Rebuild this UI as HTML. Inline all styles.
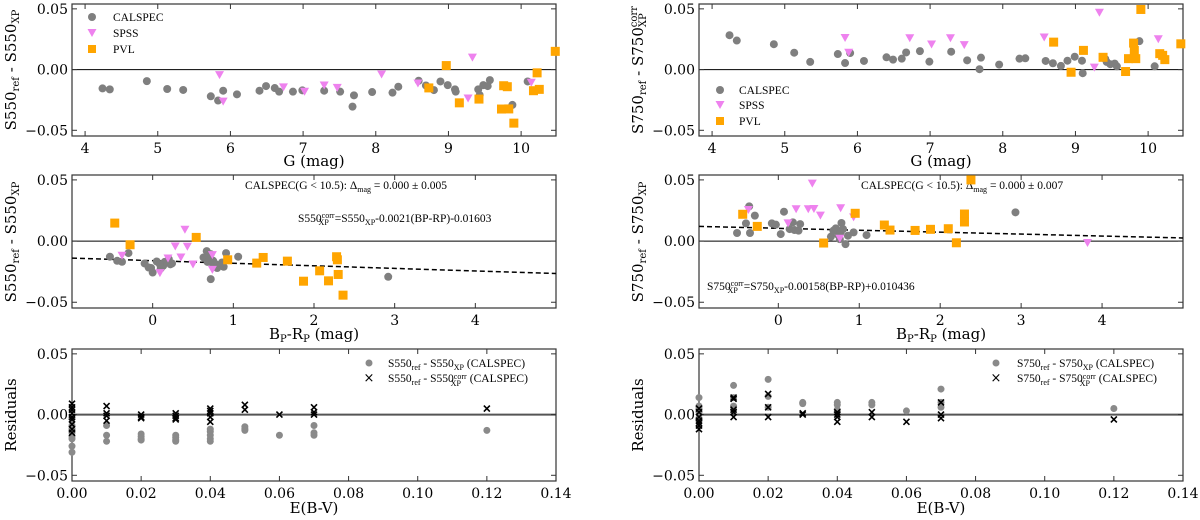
<!DOCTYPE html>
<html><head><meta charset="utf-8"><style>
html,body{margin:0;padding:0;background:#fff;}
svg{display:block;font-family:"DejaVu Serif","Liberation Serif",serif;}
.tk{font-size:14px;fill:#000;}
.lg{font-family:"Liberation Serif",serif;font-size:11.5px;fill:#000;}
.al{font-size:15px;fill:#000;}
</style></head><body>
<svg id="fig" width="1200" height="520" viewBox="0 0 1200 520" xmlns="http://www.w3.org/2000/svg">
<!-- axis labels -->
<text class="al" x="314" y="166" text-anchor="middle">G (mag)</text>
<text class="al" x="941" y="166" text-anchor="middle">G (mag)</text>
<text class="al" x="314" y="339" text-anchor="middle">B<tspan font-size="10" dy="3">P</tspan><tspan dy="-3">-R</tspan><tspan font-size="10" dy="3">P</tspan><tspan dy="-3"> (mag)</tspan></text>
<text class="al" x="941" y="339" text-anchor="middle">B<tspan font-size="10" dy="3">P</tspan><tspan dy="-3">-R</tspan><tspan font-size="10" dy="3">P</tspan><tspan dy="-3"> (mag)</tspan></text>
<text class="al" x="314" y="513" text-anchor="middle">E(B-V)</text>
<text class="al" x="941" y="513" text-anchor="middle">E(B-V)</text>

<text class="al" transform="translate(16,70) rotate(-90)" text-anchor="middle">S550<tspan font-size="10" dy="3">ref</tspan><tspan dy="-3"> - S550</tspan><tspan font-size="10" dy="3">XP</tspan></text>
<text class="al" transform="translate(16,242) rotate(-90)" text-anchor="middle">S550<tspan font-size="10" dy="3">ref</tspan><tspan dy="-3"> - S550</tspan><tspan font-size="10" dy="3">XP</tspan></text>
<text class="al" transform="translate(16,415) rotate(-90)" text-anchor="middle">Residuals</text>
<text class="al" transform="translate(643,70) rotate(-90)" text-anchor="middle">S750<tspan font-size="10" dy="3">ref</tspan><tspan dy="-3"> - S750</tspan><tspan font-size="10" dy="3">XP</tspan><tspan font-size="10" dx="-14" dy="-9">corr</tspan></text>
<text class="al" transform="translate(643,242) rotate(-90)" text-anchor="middle">S750<tspan font-size="10" dy="3">ref</tspan><tspan dy="-3"> - S750</tspan><tspan font-size="10" dy="3">XP</tspan></text>
<text class="al" transform="translate(643,415) rotate(-90)" text-anchor="middle">Residuals</text>

<!-- annotations -->
<text class="lg" x="346" y="189" text-anchor="middle">CALSPEC(G &lt; 10.5): Δ<tspan font-size="8" dy="3">mag</tspan><tspan dy="-3"> = 0.000 ± 0.005</tspan></text>
<text class="lg" x="298" y="222">S550<tspan font-size="8" dy="-4">corr</tspan><tspan font-size="8" dx="-16" dy="7">XP</tspan><tspan dx="6" dy="-3">=S550</tspan><tspan font-size="8" dy="3">XP</tspan><tspan dy="-3">-0.0021(BP-RP)-0.01603</tspan></text>
<text class="lg" x="861" y="189">CALSPEC(G &lt; 10.5): Δ<tspan font-size="8" dy="3">mag</tspan><tspan dy="-3"> = 0.000 ± 0.007</tspan></text>
<text class="lg" x="707" y="290">S750<tspan font-size="8" dy="-4">corr</tspan><tspan font-size="8" dx="-16" dy="7">XP</tspan><tspan dx="6" dy="-3">=S750</tspan><tspan font-size="8" dy="3">XP</tspan><tspan dy="-3">-0.00158(BP-RP)+0.010436</tspan></text>

<!-- legends -->
<g>
<circle cx="92" cy="17" r="4" fill="#7f7f7f"/>
<text class="lg" x="113" y="21">CALSPEC</text>
<path d="M87.5,29 L96.5,29 L92,37 Z" fill="#ee82ee"/>
<text class="lg" x="113" y="37">SPSS</text>
<rect x="88" y="45" width="8" height="8" fill="#ffa500"/>
<text class="lg" x="113" y="53">PVL</text>
</g>
<g>
<circle cx="720" cy="90" r="4" fill="#7f7f7f"/>
<text class="lg" x="739" y="94">CALSPEC</text>
<path d="M715.5,101 L724.5,101 L720,109 Z" fill="#ee82ee"/>
<text class="lg" x="739" y="109">SPSS</text>
<rect x="716" y="117" width="8" height="8" fill="#ffa500"/>
<text class="lg" x="739" y="125">PVL</text>
</g>
<g>
<circle cx="369" cy="363" r="3.5" fill="#8a8a8a"/>
<text class="lg" x="388" y="367">S550<tspan font-size="8" dy="3">ref</tspan><tspan dy="-3"> - S550</tspan><tspan font-size="8" dy="3">XP</tspan><tspan dy="-3"> (CALSPEC)</tspan></text>
<text x="369" y="382" font-size="13" text-anchor="middle" font-family="DejaVu Sans">×</text>
<text class="lg" x="388" y="382">S550<tspan font-size="8" dy="3">ref</tspan><tspan dy="-3"> - S550</tspan><tspan font-size="8" dy="-3">corr</tspan><tspan font-size="8" dx="-16" dy="7">XP</tspan><tspan dx="6" dy="-4"> (CALSPEC)</tspan></text>
</g>
<g>
<circle cx="996" cy="363" r="3.5" fill="#8a8a8a"/>
<text class="lg" x="1017" y="367">S750<tspan font-size="8" dy="3">ref</tspan><tspan dy="-3"> - S750</tspan><tspan font-size="8" dy="3">XP</tspan><tspan dy="-3"> (CALSPEC)</tspan></text>
<text x="996" y="382" font-size="13" text-anchor="middle" font-family="DejaVu Sans">×</text>
<text class="lg" x="1017" y="382">S750<tspan font-size="8" dy="3">ref</tspan><tspan dy="-3"> - S750</tspan><tspan font-size="8" dy="-3">corr</tspan><tspan font-size="8" dx="-16" dy="7">XP</tspan><tspan dx="6" dy="-4"> (CALSPEC)</tspan></text>
</g>
</svg>
<script>
// ---------- data ----------
const calG = [4.24,4.34,4.85,5.13,5.35,5.73,5.83,5.90,6.09,6.40,6.49,6.61,6.67,6.86,6.99,7.29,7.51,7.68,7.70,7.95,8.23,8.31,8.59,8.69,8.80,8.89,8.99,9.09,9.10,9.41,9.43,9.48,9.54,9.57,9.88,10.09];
const cal550G = [-0.0155,-0.0163,-0.0095,-0.0160,-0.0168,-0.0220,-0.0255,-0.0174,-0.0204,-0.0174,-0.0136,-0.0152,-0.0182,-0.0182,-0.0171,-0.0174,-0.0182,-0.0305,-0.0212,-0.0185,-0.0190,-0.0141,-0.0092,-0.0131,-0.0169,-0.0098,-0.0128,-0.0163,-0.0182,-0.0163,-0.0210,-0.0128,-0.0136,-0.0087,-0.0291,-0.0098];
const cal750G = [0.0283,0.0239,0.0209,0.0139,0.0063,0.0128,0.0054,0.0136,0.0071,0.0101,0.0082,0.0090,0.0141,0.0152,0.0065,0.0147,0.0076,0.0003,0.0098,0.0041,0.0090,0.0093,0.0071,0.0052,0.0030,0.0073,0.0106,0.0073,-0.0030,0.0087,0.0063,0.0044,0.0049,0.0027,0.0234,0.0027];
const spssG550 = [5.85,5.90,6.73,7.02,7.29,7.47,8.08,8.58,9.33,9.27,10.14];
const spss550G = [-0.0046,-0.0264,-0.0147,-0.0183,-0.0131,-0.0151,-0.0041,-0.0115,0.0098,-0.0238,-0.0109];
const spssG750 = [5.83,5.88,6.72,7.02,7.28,7.47,8.57,9.33,9.26,10.14];
const spss750G = [0.0260,0.0139,0.0258,0.0207,0.0258,0.0201,0.0264,0.0468,0.0016,0.0250];
const pvlG550 = [8.73,8.97,9.15,9.42,9.73,9.76,9.81,9.83,9.90,10.17,10.22,10.25,10.47];
const pvl550G = [-0.0151,0.0033,-0.0274,-0.0243,-0.0325,-0.0133,-0.0141,-0.0324,-0.0441,-0.0174,-0.0027,-0.0163,0.0150];
const pvlG750 = [8.70,8.94,9.11,9.38,9.69,9.73,9.80,9.81,9.83,9.90,10.16,10.20,10.23,10.45];
const pvl750G = [0.0226,-0.0022,0.0158,0.0101,-0.0016,0.0090,0.0218,0.0158,0.0090,0.0495,0.0131,0.0117,0.0082,0.0212];

const calC550 = [-0.53,-0.44,-0.38,-0.30,-0.10,-0.05,0.00,0.05,0.10,0.13,0.17,0.20,0.24,0.63,0.67,0.72,0.72,0.75,0.78,0.81,0.86,0.91,1.06,2.92,0.68,0.70,0.74,0.80,0.84,0.88,0.22,0.15,-0.02,0.09];
const cal550C = [-0.0128,-0.0161,-0.0169,-0.0098,-0.0183,-0.0216,-0.0257,-0.0167,-0.0224,-0.0202,-0.0175,-0.0147,-0.0183,-0.0134,-0.0082,-0.0107,-0.0311,-0.0161,-0.0188,-0.0202,-0.0175,-0.0098,-0.0128,-0.0292,-0.0170,-0.0140,-0.0180,-0.0220,-0.0200,-0.0210,-0.0190,-0.0170,-0.0220,-0.0190];
const spssC550 = [-0.38,0.09,0.19,0.28,0.35,0.40,0.43,0.50,0.74,0.74];
const spss550C = [-0.0120,-0.0262,-0.0142,-0.0044,-0.0134,0.0093,-0.0046,-0.0191,-0.0115,-0.0235];
const pvlC550 = [-0.47,-0.28,0.54,0.93,1.29,1.37,1.67,1.87,2.07,2.18,2.28,2.29,2.30,2.36];
const pvl550C = [0.0147,-0.0030,0.0030,-0.0153,-0.0180,-0.0134,-0.0164,-0.0328,-0.0243,-0.0325,-0.0128,-0.0153,-0.0273,-0.0442];
const fit550 = [-0.0021,-0.01603];

const calC750 = [-0.51,-0.40,-0.36,-0.35,-0.29,-0.08,-0.03,0.03,0.07,0.14,0.18,0.20,0.25,0.27,0.65,0.71,0.74,0.76,0.78,0.80,0.83,0.86,0.93,1.09,2.93,0.68,0.77];
const cal750C = [0.0066,0.0145,0.0284,0.0066,0.0208,0.0145,0.0134,0.0057,0.0240,0.0098,0.0153,0.0090,0.0085,0.0139,0.0036,0.0104,0.0049,0.0016,0.0148,0.0098,-0.0025,0.0044,0.0071,0.0049,0.0235,0.0085,0.0071];
const spssC750 = [-0.37,0.12,0.22,0.37,0.42,0.44,0.52,0.76,0.77,0.93,3.82];
const spss750C = [0.0254,0.0145,0.0260,0.0260,0.0470,0.0262,0.0208,0.0019,0.0268,0.0194,-0.0016];
const pvlC750 = [-0.44,-0.26,0.56,0.95,1.31,1.38,1.69,1.88,2.10,2.20,2.30,2.30,2.38];
const pvl750C = [0.0219,0.0120,-0.0016,0.0227,0.0131,0.0090,0.0087,0.0096,0.0101,-0.0014,0.0221,0.0156,0.0500];
const fit750 = [-0.00158,0.010436];

const ebvRaw550 = [0,0,0,0,0,0,0,0,0.01,0.01,0.01,0.02,0.02,0.02,0.02,0.03,0.03,0.03,0.03,0.04,0.04,0.04,0.04,0.04,0.05,0.05,0.05,0.06,0.07,0.07,0.07,0.12];
const res550Raw = [-0.009,-0.012,-0.015,-0.018,-0.020,-0.026,-0.031,-0.003,-0.009,-0.017,-0.022,-0.016,-0.018,-0.020,-0.021,-0.017,-0.019,-0.021,-0.022,-0.012,-0.014,-0.017,-0.020,-0.022,-0.010,-0.012,-0.013,-0.017,-0.009,-0.015,-0.017,-0.013];
const ebvCorr550 = [0,0,0,0,0,0,0,0,0,0.01,0.01,0.01,0.01,0.02,0.02,0.02,0.03,0.03,0.03,0.03,0.04,0.04,0.04,0.04,0.04,0.05,0.05,0.06,0.07,0.07,0.07,0.12];
const res550Corr = [0.009,0.006,0.004,0.001,-0.002,-0.004,-0.008,-0.012,-0.015,0.007,0.001,-0.001,-0.005,0.000,-0.002,-0.003,0.001,-0.001,-0.003,-0.004,0.005,0.003,0.001,-0.002,-0.006,0.008,0.004,0.000,0.006,0.002,0.000,0.005];
const ebvRaw750 = [0,0,0,0,0,0,0.01,0.01,0.01,0.01,0.02,0.02,0.02,0.03,0.03,0.04,0.04,0.04,0.04,0.05,0.05,0.06,0.07,0.07,0.07,0.12];
const res750Raw = [0.014,0.007,0.005,0.002,-0.003,-0.005,0.024,0.014,0.007,0.004,0.029,0.015,0.006,0.010,0.009,0.010,0.008,0.004,0.002,0.010,0.008,0.003,0.021,0.010,0.006,0.005];
const ebvCorr750 = [0,0,0,0,0,0,0,0.01,0.01,0.01,0.01,0.01,0.02,0.02,0.02,0.03,0.03,0.04,0.04,0.04,0.04,0.05,0.05,0.06,0.07,0.07,0.07,0.12];
const res750Corr = [0.005,0.002,-0.002,-0.005,-0.007,-0.009,-0.012,0.014,0.013,0.004,0.002,-0.002,0.017,0.006,-0.002,0.001,0.000,0.002,0.000,-0.002,-0.006,0.002,-0.002,-0.006,0.010,0.000,-0.003,-0.004];

const yTicks = [0.05,0.00,-0.05];
const yTickLabels = ["0.05","0.00","\u22120.05"];
const gTicks = [4,5,6,7,8,9,10];
const cTicks = [0,1,2,3,4];
const eTicks = [0,0.02,0.04,0.06,0.08,0.10,0.12,0.14];
const eTickLabels = ["0.00","0.02","0.04","0.06","0.08","0.10","0.12","0.14"];

// ---------- drawing ----------
const NS = "http://www.w3.org/2000/svg";
const svg = document.getElementById('fig');
function mk(tag, attrs, parent){
  const e = document.createElementNS(NS, tag);
  for (const k in attrs) e.setAttribute(k, attrs[k]);
  (parent||svg).appendChild(e);
  return e;
}
function panel(name, px0, px1, py0, py1, xmin, xmax, xt, xtl, zeroStyle){
  const g = mk('g', {});
  
  
  const sx = v => px0 + (v - xmin) / (xmax - xmin) * (px1 - px0);
  const ymin = -0.0547, ymax = 0.054;
  const sy = v => py1 - (v - ymin) / (ymax - ymin) * (py1 - py0);
  const z = mk('line', {x1:px0, x2:px1, y1:sy(0), y2:sy(0), stroke:zeroStyle[0], 'stroke-width':zeroStyle[1]}, g);
  
  
  const fr = mk('rect', {x:px0, y:py0, width:px1-px0, height:py1-py0, fill:'none', stroke:'#333', 'stroke-width':1.2}, g);
  
  
  yTicks.forEach((v,i)=>{
    const y = sy(v);
    mk('line', {x1:px0, x2:px0+5, y1:y, y2:y, stroke:'#333'}, g);
    mk('line', {x1:px1, x2:px1-5, y1:y, y2:y, stroke:'#333'}, g);
    const t = mk('text', {x:px0-4, y:y+5, 'text-anchor':'end', class:'tk'}, g);
    
    
    t.textContent = yTickLabels[i];
  });
  xt.forEach((v,i)=>{
    const x = sx(v);
    mk('line', {x1:x, x2:x, y1:py1, y2:py1-5, stroke:'#333'}, g);
    mk('line', {x1:x, x2:x, y1:py0, y2:py0+5, stroke:'#333'}, g);
    const t = mk('text', {x:x, y:py1+17, 'text-anchor':'middle', class:'tk'}, g);
    
    
    t.textContent = xtl ? xtl[i] : String(v);
  });
  return {g, sx, sy, px0, px1, py0, py1};
}
function circles(p, xs, ys, color, r, name){
  xs.forEach((x,i)=>{
    const c = mk('circle', {cx:p.sx(x), cy:p.sy(ys[i]), r:r, fill:color}, p.g);
    
    
  });
}
function tris(p, xs, ys, name){
  xs.forEach((x,i)=>{
    const cx = p.sx(x), cy = p.sy(ys[i]);
    const t = mk('path', {d:`M${cx-4.5},${cy-4} L${cx+4.5},${cy-4} L${cx},${cy+4} Z`, fill:'#ee82ee'}, p.g);
    
    
  });
}
function squares(p, xs, ys, name){
  xs.forEach((x,i)=>{
    const s = mk('rect', {x:p.sx(x)-4.5, y:p.sy(ys[i])-4.5, width:9, height:9, fill:'#ffa500'}, p.g);
    
    
  });
}
function crosses(p, xs, ys, name){
  xs.forEach((x,i)=>{
    const cx = p.sx(x), cy = p.sy(ys[i]);
    const c = mk('path', {d:`M${cx-3},${cy-3} L${cx+3},${cy+3} M${cx-3},${cy+3} L${cx+3},${cy-3}`, stroke:'#000', 'stroke-width':1.6}, p.g);
    
    
  });
}
function fitLine(p, xmin, xmax, fit){
  const l = mk('line', {x1:p.sx(xmin), y1:p.sy(fit[0]*xmin+fit[1]), x2:p.sx(xmax), y2:p.sy(fit[0]*xmax+fit[1]), stroke:'#000', 'stroke-width':1.5, 'stroke-dasharray':'5,3'}, p.g);
  
  
}
const L0=72, L1=556, R0=699, R1=1183;
const blk = ['#000',1], gry = ['#555',2];

let p = panel('panel-s550-vs-g', L0, L1, 4, 136, 3.82, 10.48, gTicks, null, blk);
circles(p, calG, cal550G, '#7f7f7f', 4, 'calspec-point');
tris(p, spssG550, spss550G, 'spss-point');
squares(p, pvlG550, pvl550G, 'pvl-point');

p = panel('panel-s750-vs-g', R0, R1, 4, 136, 3.82, 10.48, gTicks, null, blk);
circles(p, calG, cal750G, '#7f7f7f', 4, 'calspec-point');
tris(p, spssG750, spss750G, 'spss-point');
squares(p, pvlG750, pvl750G, 'pvl-point');

p = panel('panel-s550-vs-color', L0, L1, 175, 308, -1, 5, cTicks, null, blk);
fitLine(p, -1, 5, fit550);
circles(p, calC550, cal550C, '#7f7f7f', 4, 'calspec-point');
tris(p, spssC550, spss550C, 'spss-point');
squares(p, pvlC550, pvl550C, 'pvl-point');

p = panel('panel-s750-vs-color', R0, R1, 175, 308, -0.98, 5, cTicks, null, blk);
fitLine(p, -0.98, 5, fit750);
circles(p, calC750, cal750C, '#7f7f7f', 4, 'calspec-point');
tris(p, spssC750, spss750C, 'spss-point');
squares(p, pvlC750, pvl750C, 'pvl-point');

p = panel('panel-residuals-550', L0, L1, 349, 481, 0, 0.14, eTicks, eTickLabels, gry);
circles(p, ebvRaw550, res550Raw, '#8a8a8a', 3.5, 'residual-raw-point');
crosses(p, ebvCorr550, res550Corr, 'residual-corr-point');

p = panel('panel-residuals-750', R0, R1, 349, 481, 0, 0.14, eTicks, eTickLabels, gry);
circles(p, ebvRaw750, res750Raw, '#8a8a8a', 3.5, 'residual-raw-point');
crosses(p, ebvCorr750, res750Corr, 'residual-corr-point');
</script>
</body></html>
